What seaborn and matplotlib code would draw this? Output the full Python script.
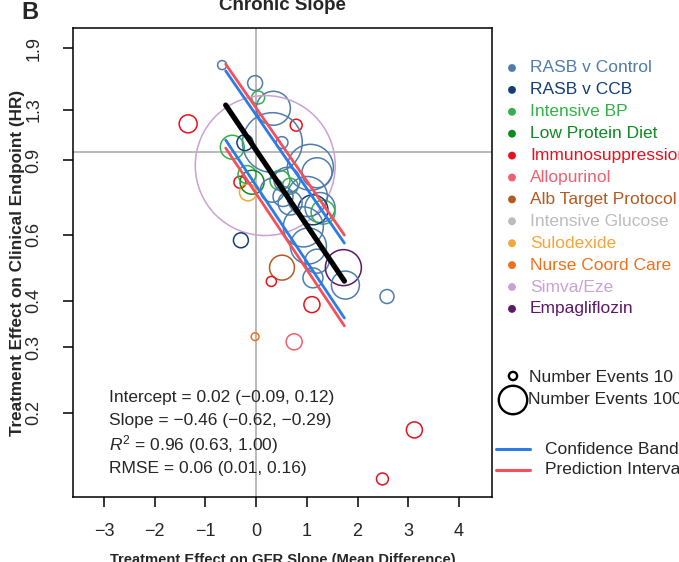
import pandas as pd
import seaborn as sns
import matplotlib.pyplot as plt

# trial groups and their colours
groups = ['RASB v Control', 'RASB v CCB', 'Intensive BP', 'Low Protein Diet',
          'Immunosuppression', 'Allopurinol', 'Alb Target Protocol', 'Intensive Glucose',
          'Sulodexide', 'Nurse Coord Care', 'Simva/Eze', 'Empagliflozin']
group_colors = ['#4f7dab', '#123e73', '#33b04a', '#0f8a23',
                '#e8101e', '#f06070', '#b45a22', '#bcbcbc',
                '#f7a43a', '#f0701a', '#c9a2d2', '#5c1a66']

# one entry per study
study_group = ['Immunosuppression', 'RASB v Control', 'RASB v Control', 'Intensive BP',
               'RASB v Control', 'Immunosuppression', 'RASB v Control', 'Intensive BP',
               'RASB v CCB', 'RASB v Control', 'RASB v Control', 'Simva/Eze',
               'Immunosuppression', 'Sulodexide', 'Intensive BP', 'Low Protein Diet',
               'Intensive BP', 'Intensive BP', 'RASB v Control', 'RASB v Control',
               'RASB v Control', 'Intensive BP', 'RASB v CCB', 'RASB v Control',
               'RASB v Control', 'RASB v Control', 'RASB v Control', 'RASB v Control',
               'RASB v Control', 'RASB v Control', 'RASB v Control', 'Empagliflozin',
               'RASB v Control', 'RASB v Control', 'RASB v CCB', 'Alb Target Protocol',
               'Immunosuppression', 'Immunosuppression', 'Allopurinol', 'Nurse Coord Care',
               'Immunosuppression', 'Immunosuppression']
gfr_effect = [-1.34, -0.67, -0.02, 0.04,
              0.34, 0.79, 0.32, -0.47,
              -0.22, 0.51, 1.07, 0.18,
              -0.32, -0.16, -0.18, -0.08,
              0.47, 0.67, 1.20, 1.01,
              1.26, 1.32, 1.12, 0.53,
              0.32, 0.61, 0.67, 0.93,
              1.03, 1.20, 1.12, 1.72,
              1.76, 2.58, -0.30, 0.51,
              0.30, 1.10, 0.75, -0.02,
              3.12, 2.49]
hazard_ratio = [1.19, 1.71, 1.53, 1.40,
                1.31, 1.18, 1.06, 1.03,
                1.06, 1.06, 0.91, 0.92,
                0.83, 0.78, 0.87, 0.83,
                0.84, 0.81, 0.88, 0.76,
                0.71, 0.69, 0.70, 0.76,
                0.79, 0.84, 0.73, 0.63,
                0.56, 0.51, 0.46, 0.49,
                0.44, 0.41, 0.58, 0.49,
                0.45, 0.39, 0.31, 0.32,
                0.18, 0.133]
n_events = [48, 12, 33, 25,
            171, 21, 530, 85,
            38, 21, 313, 2900,
            21, 43, 48, 85,
            59, 38, 133, 237,
            133, 85, 133, 59,
            85, 100, 85, 237,
            192, 85, 59, 192,
            116, 29, 33, 92,
            15, 38, 38, 9,
            38, 21]

# regression line with confidence band and prediction interval (HR at x ends)
line_x = [-0.6, 1.74]
fit_hr = [1.336, 0.451]
ci_upper = [1.65, 0.570]
ci_lower = [1.077, 0.359]
pi_upper = [1.72, 0.599]
pi_lower = [1.025, 0.342]

y_ticks = [0.2, 0.3, 0.4, 0.6, 0.95, 1.3, 1.9]
y_labels = ['0.2', '0.3', '0.4', '0.6', '0.9', '1.3', '1.9']
x_ticks = [-3, -2, -1, 0, 1, 2, 3, 4]

stats_lines = ['Intercept = 0.02 (\u22120.09, 0.12)',
               'Slope = \u22120.46 (\u22120.62, \u22120.29)',
               '$R^2$ = 0.96 (0.63, 1.00)',
               'RMSE = 0.06 (0.01, 0.16)']

sns.set_style('ticks')
plt.rcParams['font.family'] = ['Liberation Sans', 'DejaVu Sans']
plt.rcParams['mathtext.fontset'] = 'custom'
plt.rcParams['mathtext.rm'] = 'Liberation Sans'
plt.rcParams['mathtext.it'] = 'Liberation Sans:italic'

df = pd.DataFrame({'group': study_group, 'x': gfr_effect, 'hr': hazard_ratio, 'events': n_events})
palette = dict(zip(groups, group_colors))

fig = plt.figure(figsize=(6.79, 5.62), dpi=100)
ax = fig.add_axes([0.1075, 0.1157, 0.6171, 0.8345])
ax.set_yscale('log')

ax.axvline(0, color='#b4b4b4', lw=1.3, zorder=0)
ax.axhline(1, color='#b4b4b4', lw=1.3, zorder=0)

k = 3.5  # marker area per event
sns.scatterplot(data=df, x='x', y='hr', hue='group', palette=palette, size='events',
                sizes=(k * min(n_events), k * max(n_events)),
                size_norm=(min(n_events), max(n_events)),
                legend=False, ax=ax, zorder=2)
pts = ax.collections[-1]
pts.set_edgecolors(pts.get_facecolors())
pts.set_facecolors('none')
pts.set_linewidth(1.1)

blue = '#2b7be8'
red = '#f4505c'
ax.plot(line_x, pi_upper, color=red, lw=2.0, zorder=3)
ax.plot(line_x, pi_lower, color=red, lw=2.0, zorder=3)
ax.plot(line_x, ci_upper, color=blue, lw=2.0, zorder=3)
ax.plot(line_x, ci_lower, color=blue, lw=2.0, zorder=3)
ax.plot(line_x, fit_hr, color='black', lw=3.8, zorder=4)

ax.set_xlim(-3.61, 4.65)
ax.set_ylim(0.119, 2.15)
ax.set_xticks(x_ticks)
ax.set_xticklabels(['\u22123', '\u22122', '\u22121', '0', '1', '2', '3', '4'])
ax.set_yticks(y_ticks)
ax.set_yticklabels(y_labels)
ax.minorticks_off()
ax.tick_params(axis='both', length=7, width=1.1, labelsize=13, color='black')
ax.tick_params(axis='x', pad=12)
ax.tick_params(axis='y', pad=15)
for lab in ax.get_yticklabels():
    lab.set_rotation(90)
    lab.set_va('center')
for sp in ax.spines.values():
    sp.set_linewidth(1.1)
    sp.set_color('black')
    sp.set_visible(True)
ax.set_xlabel('Treatment Effect on GFR Slope (Mean Difference)', fontsize=10.6,
              fontweight='bold', labelpad=9)
ax.set_ylabel('Treatment Effect on Clinical Endpoint (HR)', fontsize=12.3,
              fontweight='bold', labelpad=0)

for i, s in enumerate(stats_lines):
    ax.text(0.085, 0.213 - i * 0.0505, s, transform=ax.transAxes, fontsize=12.5,
            va='center', ha='left')

fig.text(0.416, 0.9825, 'Chronic Slope', fontsize=13.5, fontweight='bold',
         ha='center', va='baseline')
fig.text(0.031, 0.966, 'B', fontsize=17, fontweight='bold', ha='left', va='baseline')

# legend drawn on an overlay in pixel units
lg = fig.add_axes([0, 0, 1, 1], zorder=5)
lg.set_xlim(0, 679)
lg.set_ylim(562, 0)
lg.axis('off')
for i, (g, c) in enumerate(zip(groups, group_colors)):
    yy = 68 + i * 21.9
    lg.scatter([512], [yy], s=32, color=c, edgecolors='none')
    lg.text(530, yy, g, color=c, fontsize=12.5, va='center', ha='left', clip_on=False)
lg.scatter([513], [376], s=k * 10, facecolors='none', edgecolors='black', linewidths=1.7)
lg.scatter([513], [400], s=k * 120, facecolors='none', edgecolors='black', linewidths=1.7)
lg.text(529, 377, 'Number Events 10', fontsize=12.5, va='center', ha='left')
lg.text(528, 400, 'Number Events 100', fontsize=12.5, va='center', ha='left')
lg.plot([496, 530], [449, 449], color=blue, lw=2.2)
lg.plot([496, 530], [470, 470], color=red, lw=2.2)
lg.text(545, 449, 'Confidence Band', fontsize=12.5, va='center', ha='left')
lg.text(545, 470, 'Prediction Interval', fontsize=12.5, va='center', ha='left')

fig.savefig('out.png', dpi=100)
